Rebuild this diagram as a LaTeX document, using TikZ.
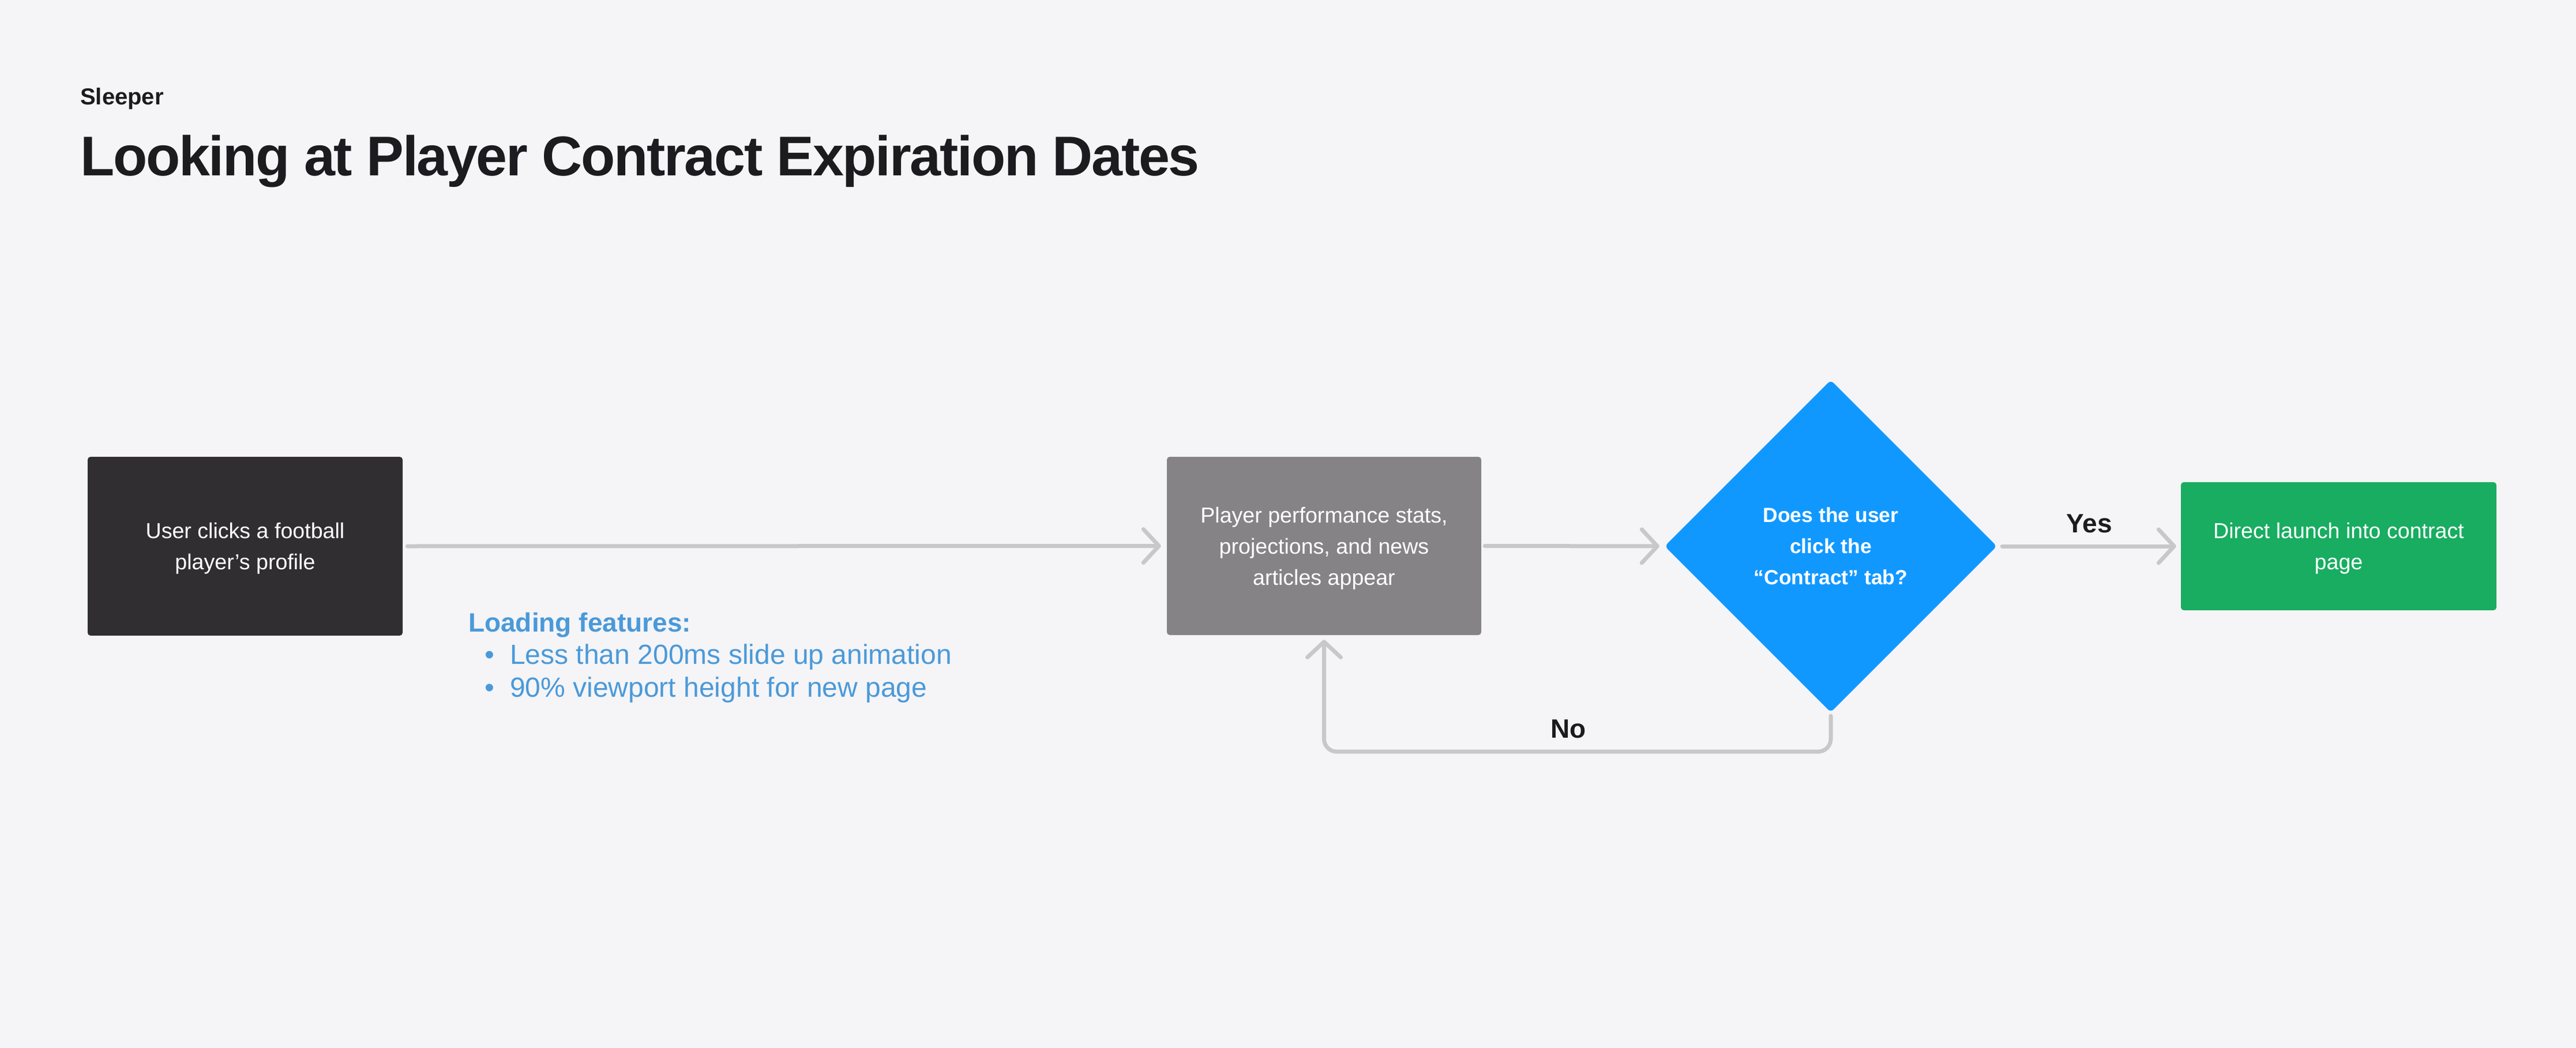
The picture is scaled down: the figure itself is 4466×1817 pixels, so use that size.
\documentclass[tikz,border=0pt]{standalone}
\usepackage{fontspec}
\setmainfont{Liberation Sans}
\newfontfamily\titlefont[LetterSpace=-2.4]{Liberation Sans}
\usetikzlibrary{shapes.geometric,arrows.meta}
\definecolor{bg}{HTML}{F5F4F7}
\definecolor{ink}{HTML}{1C1B1F}
\definecolor{darkbox}{HTML}{302E31}
\definecolor{graybox}{HTML}{858386}
\definecolor{bluebox}{HTML}{1198FF}
\definecolor{greenbox}{HTML}{18AD60}
\definecolor{conngray}{HTML}{C8C7CA}
\definecolor{note}{HTML}{4A9AD9}
\begin{document}
\begin{tikzpicture}[x=1pt,y=-1pt,
  box/.style={rectangle, rounded corners=5pt, inner sep=0pt, align=center, text=white,
    text depth=0pt, font=\fontsize{37.6}{54}\selectfont},
  decision/.style={diamond, aspect=1, inner sep=0pt, rounded corners=7pt, align=center, text=white,
    text depth=0pt, font=\bfseries\fontsize{35.5}{54}\selectfont},
  conn/.style={draw=conngray, line width=7pt, line cap=round, line join=round,
    -{Straight Barb[length=27pt,width=58pt,round]}},
  lbl/.style={inner sep=0pt, text=ink, font=\bfseries\fontsize{46}{55}\selectfont},
  notetext/.style={inner sep=0pt, text=note, font=\fontsize{48}{57}\selectfont}
]
\fill[bg] (0,0) rectangle (4466,1817);
\useasboundingbox (0,0) rectangle (4466,1817);

% titles
\node[anchor=base west, inner sep=0pt, text=ink, font=\bfseries\fontsize{40}{48}\selectfont] (sleeper) at (139,182) {Sleeper};
\node[anchor=base west, inner sep=0pt, text=ink, font=\titlefont\bfseries\fontsize{97}{116}\selectfont] (title) at (139,304) {Looking at Player Contract Expiration Dates};

% nodes
\node[box, fill=darkbox, minimum width=546pt, minimum height=310pt] (b1) at (425,947) {User clicks a football\\player’s profile};
\node[box, fill=graybox, minimum width=545pt, minimum height=309pt] (b2) at (2295.5,946.5) {Player performance stats,\\projections, and news\\articles appear};
\node[decision, fill=bluebox, minimum width=576pt, minimum height=576pt] (d) at (3174,947) {Does the user\\click the\\“Contract” tab?};
\node[box, fill=greenbox, minimum width=547pt, minimum height=222pt] (b4) at (4054.5,947) {Direct launch into contract\\page};

% connectors
\draw[conn, shorten <=8pt, shorten >=10pt] (b1.east) -- (b2.west);
\draw[conn, shorten <=6pt, shorten >=9pt] (b2.east) -- (d.west);
\draw[conn, shorten <=9pt, shorten >=8pt] (d.east) -- (b4.west);
\draw[conn, rounded corners=22pt] ([yshift=-6pt]d.south) -- ++(0,62) -| ([yshift=-8pt]b2.south);

% labels
\node[lbl, anchor=base] (yes) at (3622,923) {Yes};
\node[lbl, anchor=base] (no) at (2719,1279) {No};

% note
\node[anchor=base west, inner sep=0pt, text=note, font=\bfseries\fontsize{46}{55}\selectfont] (lf) at (812,1095) {Loading features:};
\node[notetext, anchor=base] (bul1) at (849,1151) {•};
\node[notetext, anchor=base west] (it1) at (884,1151) {Less than 200ms slide up animation};
\node[notetext, anchor=base] (bul2) at (849,1208) {•};
\node[notetext, anchor=base west] (it2) at (884,1208) {90\% viewport height for new page};
\end{tikzpicture}
\end{document}
